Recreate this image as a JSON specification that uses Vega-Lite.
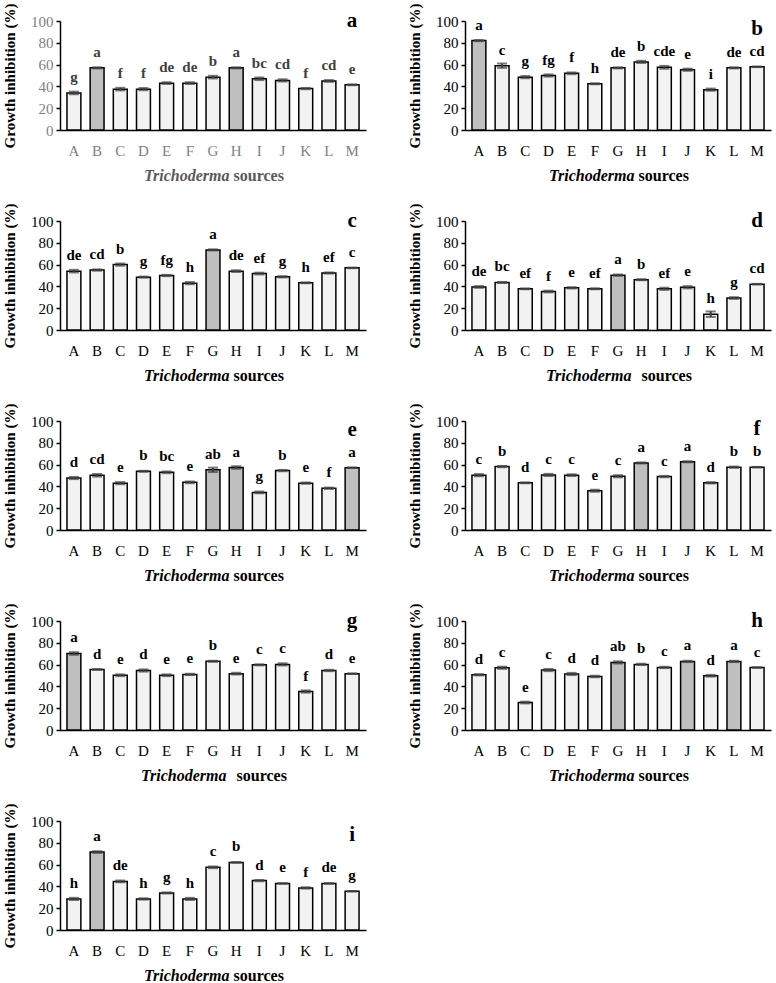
{
"$schema": "https://vega.github.io/schema/vega-lite/v6.json",
"background": "white",
"padding": {"left": 2, "top": 1, "right": 2, "bottom": 2},
"columns": 2,
"spacing": {"row": 18, "column": 41},
"datasets": {"d": [
{"p":"a","s":"A","v":34,"e":1.2,"l":"g","h":0},{"p":"a","s":"B","v":57,"e":0.5,"l":"a","h":1},{"p":"a","s":"C","v":37.5,"e":1.2,"l":"f","h":0},{"p":"a","s":"D","v":37.5,"e":1,"l":"f","h":0},{"p":"a","s":"E","v":43,"e":0.8,"l":"de","h":0},{"p":"a","s":"F","v":43,"e":0.8,"l":"de","h":0},{"p":"a","s":"G","v":48.5,"e":1.2,"l":"b","h":0},{"p":"a","s":"H","v":57,"e":0.5,"l":"a","h":1},{"p":"a","s":"I","v":47,"e":1.2,"l":"bc","h":0},{"p":"a","s":"J","v":45.5,"e":1,"l":"cd","h":0},{"p":"a","s":"K","v":38,"e":0.6,"l":"f","h":0},{"p":"a","s":"L","v":45,"e":0.8,"l":"cd","h":0},{"p":"a","s":"M","v":41.5,"e":0.4,"l":"e","h":0},
{"p":"b","s":"A","v":82,"e":0.5,"l":"a","h":1},{"p":"b","s":"B","v":59,"e":2,"l":"c","h":0},{"p":"b","s":"C","v":48.5,"e":1,"l":"g","h":0},{"p":"b","s":"D","v":50,"e":1,"l":"fg","h":0},{"p":"b","s":"E","v":52,"e":0.8,"l":"f","h":0},{"p":"b","s":"F","v":42.5,"e":0.5,"l":"h","h":0},{"p":"b","s":"G","v":57,"e":0.5,"l":"de","h":0},{"p":"b","s":"H","v":62.5,"e":1,"l":"b","h":0},{"p":"b","s":"I","v":57.5,"e":1.3,"l":"cde","h":0},{"p":"b","s":"J","v":55.3,"e":1,"l":"e","h":0},{"p":"b","s":"K","v":37,"e":1,"l":"i","h":0},{"p":"b","s":"L","v":57,"e":0.5,"l":"de","h":0},{"p":"b","s":"M","v":58,"e":0.3,"l":"cd","h":0},
{"p":"c","s":"A","v":54,"e":1.2,"l":"de","h":0},{"p":"c","s":"B","v":55,"e":0.6,"l":"cd","h":0},{"p":"c","s":"C","v":60,"e":1,"l":"b","h":0},{"p":"c","s":"D","v":48.5,"e":0.5,"l":"g","h":0},{"p":"c","s":"E","v":50,"e":0.6,"l":"fg","h":0},{"p":"c","s":"F","v":43,"e":1,"l":"h","h":0},{"p":"c","s":"G","v":73.5,"e":0.5,"l":"a","h":1},{"p":"c","s":"H","v":54,"e":0.8,"l":"de","h":0},{"p":"c","s":"I","v":51.8,"e":0.8,"l":"ef","h":0},{"p":"c","s":"J","v":48.8,"e":0.6,"l":"g","h":0},{"p":"c","s":"K","v":43.3,"e":0.4,"l":"h","h":0},{"p":"c","s":"L","v":52.3,"e":0.5,"l":"ef","h":0},{"p":"c","s":"M","v":57,"e":0.3,"l":"c","h":0},
{"p":"d","s":"A","v":39.5,"e":0.8,"l":"de","h":0},{"p":"d","s":"B","v":43.6,"e":0.5,"l":"bc","h":0},{"p":"d","s":"C","v":37.8,"e":0.4,"l":"ef","h":0},{"p":"d","s":"D","v":35.3,"e":0.8,"l":"f","h":0},{"p":"d","s":"E","v":38.7,"e":0.6,"l":"e","h":0},{"p":"d","s":"F","v":37.8,"e":0.4,"l":"ef","h":0},{"p":"d","s":"G","v":50.3,"e":0.6,"l":"a","h":1},{"p":"d","s":"H","v":46.2,"e":0.5,"l":"b","h":0},{"p":"d","s":"I","v":37.8,"e":1,"l":"ef","h":0},{"p":"d","s":"J","v":39.2,"e":1,"l":"e","h":0},{"p":"d","s":"K","v":14.5,"e":2.5,"l":"h","h":0},{"p":"d","s":"L","v":29.3,"e":0.8,"l":"g","h":0},{"p":"d","s":"M","v":42,"e":0.3,"l":"cd","h":0},
{"p":"e","s":"A","v":47.7,"e":1,"l":"d","h":0},{"p":"e","s":"B","v":50.2,"e":1.2,"l":"cd","h":0},{"p":"e","s":"C","v":43,"e":1,"l":"e","h":0},{"p":"e","s":"D","v":53.8,"e":0.5,"l":"b","h":0},{"p":"e","s":"E","v":52.9,"e":0.8,"l":"bc","h":0},{"p":"e","s":"F","v":43.7,"e":0.8,"l":"e","h":0},{"p":"e","s":"G","v":55.2,"e":2,"l":"ab","h":1},{"p":"e","s":"H","v":57.3,"e":1.2,"l":"a","h":1},{"p":"e","s":"I","v":34.5,"e":0.8,"l":"g","h":0},{"p":"e","s":"J","v":54.5,"e":0.6,"l":"b","h":0},{"p":"e","s":"K","v":43,"e":0.6,"l":"e","h":0},{"p":"e","s":"L","v":38.3,"e":0.6,"l":"f","h":0},{"p":"e","s":"M","v":57.2,"e":0.3,"l":"a","h":1},
{"p":"f","s":"A","v":50.3,"e":1,"l":"c","h":0},{"p":"f","s":"B","v":58.2,"e":0.6,"l":"b","h":0},{"p":"f","s":"C","v":43.3,"e":0.4,"l":"d","h":0},{"p":"f","s":"D","v":50.5,"e":1,"l":"c","h":0},{"p":"f","s":"E","v":50.3,"e":0.8,"l":"c","h":0},{"p":"f","s":"F","v":36,"e":1,"l":"e","h":0},{"p":"f","s":"G","v":49.3,"e":1,"l":"c","h":0},{"p":"f","s":"H","v":61.5,"e":0.5,"l":"a","h":1},{"p":"f","s":"I","v":49,"e":0.6,"l":"c","h":0},{"p":"f","s":"J","v":62.6,"e":0.5,"l":"a","h":1},{"p":"f","s":"K","v":43.3,"e":0.6,"l":"d","h":0},{"p":"f","s":"L","v":57.6,"e":0.6,"l":"b","h":0},{"p":"f","s":"M","v":57.6,"e":0.3,"l":"b","h":0},
{"p":"g","s":"A","v":70.2,"e":1.2,"l":"a","h":1},{"p":"g","s":"B","v":55.5,"e":0.4,"l":"d","h":0},{"p":"g","s":"C","v":50.2,"e":0.8,"l":"e","h":0},{"p":"g","s":"D","v":54.6,"e":1,"l":"d","h":0},{"p":"g","s":"E","v":50.2,"e":0.8,"l":"e","h":0},{"p":"g","s":"F","v":51,"e":0.6,"l":"e","h":0},{"p":"g","s":"G","v":63,"e":0.5,"l":"b","h":0},{"p":"g","s":"H","v":51.7,"e":0.8,"l":"e","h":0},{"p":"g","s":"I","v":59.8,"e":0.5,"l":"c","h":0},{"p":"g","s":"J","v":60.2,"e":1,"l":"c","h":0},{"p":"g","s":"K","v":35.3,"e":1,"l":"f","h":0},{"p":"g","s":"L","v":54.6,"e":0.6,"l":"d","h":0},{"p":"g","s":"M","v":51.7,"e":0.3,"l":"e","h":0},
{"p":"h","s":"A","v":50.7,"e":0.6,"l":"d","h":0},{"p":"h","s":"B","v":57.1,"e":1,"l":"c","h":0},{"p":"h","s":"C","v":25.2,"e":0.8,"l":"e","h":0},{"p":"h","s":"D","v":55,"e":1,"l":"c","h":0},{"p":"h","s":"E","v":51.4,"e":1,"l":"d","h":0},{"p":"h","s":"F","v":49.1,"e":0.6,"l":"d","h":0},{"p":"h","s":"G","v":62,"e":1,"l":"ab","h":1},{"p":"h","s":"H","v":60.2,"e":0.6,"l":"b","h":0},{"p":"h","s":"I","v":57.4,"e":0.6,"l":"c","h":0},{"p":"h","s":"J","v":62.9,"e":0.6,"l":"a","h":1},{"p":"h","s":"K","v":49.8,"e":0.8,"l":"d","h":0},{"p":"h","s":"L","v":62.9,"e":0.6,"l":"a","h":1},{"p":"h","s":"M","v":57.3,"e":0.3,"l":"c","h":0},
{"p":"i","s":"A","v":28.5,"e":1,"l":"h","h":0},{"p":"i","s":"B","v":71.5,"e":0.8,"l":"a","h":1},{"p":"i","s":"C","v":44.6,"e":0.8,"l":"de","h":0},{"p":"i","s":"D","v":28.5,"e":0.6,"l":"h","h":0},{"p":"i","s":"E","v":34,"e":0.5,"l":"g","h":0},{"p":"i","s":"F","v":28.5,"e":1,"l":"h","h":0},{"p":"i","s":"G","v":57.5,"e":0.8,"l":"c","h":0},{"p":"i","s":"H","v":62,"e":0.4,"l":"b","h":0},{"p":"i","s":"I","v":45.3,"e":0.6,"l":"d","h":0},{"p":"i","s":"J","v":42.7,"e":0.3,"l":"e","h":0},{"p":"i","s":"K","v":38.6,"e":0.6,"l":"f","h":0},{"p":"i","s":"L","v":42.7,"e":0.3,"l":"de","h":0},{"p":"i","s":"M","v":35.5,"e":0.3,"l":"g","h":0}
]},
"concat": [
{"width":306,"height":109,"data":{"name":"d"},"transform":[{"filter":"datum.p == 'a'"}],
 "encoding":{"y":{"field":"v","type":"quantitative","scale":{"domain":[0,100]},"axis":{"title":"Growth inhibition  (%)","values":[0,20,40,60,80,100],"labelColor":"#7f7f7f"}}},
 "layer":[
  {"mark":{"type":"bar","stroke":"black","strokeWidth":1.5},"encoding":{"x":{"field":"s","type":"nominal","scale":{"paddingInner":0.4,"paddingOuter":0.3},"axis":{"title":"Trichoderma","titleFontStyle":"italic","titleAlign":"right","titleAnchor":null,"titleX":169,"titleY":50,"titleBaseline":"alphabetic","labelColor":"#7f7f7f","titleColor":"#595959"}},"color":{"field":"h","type":"nominal","scale":{"domain":[0,1],"range":["#f2f2f2","#bfbfbf"]},"legend":null}}},
  {"mark":{"type":"errorbar","ticks":{"size":10},"color":"#404040","thickness":2},"encoding":{"x":{"field":"s","type":"nominal","axis":null},"yError":{"field":"e"}}},
  {"mark":{"type":"text","dy":-11,"baseline":"alphabetic","fontWeight":"bold","fontSize":15,"color":"#404040"},"encoding":{"x":{"field":"s","type":"nominal","axis":{"title":"sources","orient":"bottom","labels":false,"ticks":false,"domain":false,"titleAlign":"left","titleAnchor":null,"titleX":173,"titleY":50,"titleBaseline":"alphabetic","titleColor":"#595959"}},"text":{"field":"l"}}},
  {"transform":[{"filter":"datum.s == 'M'"}],"mark":{"type":"text","fontSize":21,"fontWeight":"bold","baseline":"middle"},"encoding":{"x":{"field":"s","type":"nominal","axis":null},"y":{"datum":100,"type":"quantitative","axis":{"title":"Growth inhibition  (%)","values":[0,20,40,60,80,100],"labelColor":"#7f7f7f"}},"text":{"value":"a"}}}
 ],
 "resolve":{"axis":{"x":"independent"}}},
{"width":306,"height":109,"data":{"name":"d"},"transform":[{"filter":"datum.p == 'b'"}],
 "encoding":{"y":{"field":"v","type":"quantitative","scale":{"domain":[0,100]},"axis":{"title":"Growth inhibition  (%)","values":[0,20,40,60,80,100]}}},
 "layer":[
  {"mark":{"type":"bar","stroke":"black","strokeWidth":1.5},"encoding":{"x":{"field":"s","type":"nominal","scale":{"paddingInner":0.4,"paddingOuter":0.3},"axis":{"title":"Trichoderma","titleFontStyle":"italic","titleAlign":"right","titleAnchor":null,"titleX":169,"titleY":50,"titleBaseline":"alphabetic"}},"color":{"field":"h","type":"nominal","scale":{"domain":[0,1],"range":["#f2f2f2","#bfbfbf"]},"legend":null}}},
  {"mark":{"type":"errorbar","ticks":{"size":10},"color":"#404040","thickness":2},"encoding":{"x":{"field":"s","type":"nominal","axis":null},"yError":{"field":"e"}}},
  {"mark":{"type":"text","dy":-11,"baseline":"alphabetic","fontWeight":"bold","fontSize":15},"encoding":{"x":{"field":"s","type":"nominal","axis":{"title":"sources","orient":"bottom","labels":false,"ticks":false,"domain":false,"titleAlign":"left","titleAnchor":null,"titleX":173,"titleY":50,"titleBaseline":"alphabetic"}},"text":{"field":"l"}}},
  {"transform":[{"filter":"datum.s == 'M'"}],"mark":{"type":"text","fontSize":21,"fontWeight":"bold","baseline":"middle"},"encoding":{"x":{"field":"s","type":"nominal","axis":null},"y":{"datum":93,"type":"quantitative","axis":{"title":"Growth inhibition  (%)","values":[0,20,40,60,80,100]}},"text":{"value":"b"}}}
 ],
 "resolve":{"axis":{"x":"independent"}}},
{"width":306,"height":109,"data":{"name":"d"},"transform":[{"filter":"datum.p == 'c'"}],
 "encoding":{"y":{"field":"v","type":"quantitative","scale":{"domain":[0,100]},"axis":{"title":"Growth inhibition  (%)","values":[0,20,40,60,80,100]}}},
 "layer":[
  {"mark":{"type":"bar","stroke":"black","strokeWidth":1.5},"encoding":{"x":{"field":"s","type":"nominal","scale":{"paddingInner":0.4,"paddingOuter":0.3},"axis":{"title":"Trichoderma","titleFontStyle":"italic","titleAlign":"right","titleAnchor":null,"titleX":169,"titleY":50,"titleBaseline":"alphabetic"}},"color":{"field":"h","type":"nominal","scale":{"domain":[0,1],"range":["#f2f2f2","#bfbfbf"]},"legend":null}}},
  {"mark":{"type":"errorbar","ticks":{"size":10},"color":"#404040","thickness":2},"encoding":{"x":{"field":"s","type":"nominal","axis":null},"yError":{"field":"e"}}},
  {"mark":{"type":"text","dy":-11,"baseline":"alphabetic","fontWeight":"bold","fontSize":15},"encoding":{"x":{"field":"s","type":"nominal","axis":{"title":"sources","orient":"bottom","labels":false,"ticks":false,"domain":false,"titleAlign":"left","titleAnchor":null,"titleX":173,"titleY":50,"titleBaseline":"alphabetic"}},"text":{"field":"l"}}},
  {"transform":[{"filter":"datum.s == 'M'"}],"mark":{"type":"text","fontSize":21,"fontWeight":"bold","baseline":"middle"},"encoding":{"x":{"field":"s","type":"nominal","axis":null},"y":{"datum":100,"type":"quantitative","axis":{"title":"Growth inhibition  (%)","values":[0,20,40,60,80,100]}},"text":{"value":"c"}}}
 ],
 "resolve":{"axis":{"x":"independent"}}},
{"width":306,"height":109,"data":{"name":"d"},"transform":[{"filter":"datum.p == 'd'"}],
 "encoding":{"y":{"field":"v","type":"quantitative","scale":{"domain":[0,100]},"axis":{"title":"Growth inhibition  (%)","values":[0,20,40,60,80,100]}}},
 "layer":[
  {"mark":{"type":"bar","stroke":"black","strokeWidth":1.5},"encoding":{"x":{"field":"s","type":"nominal","scale":{"paddingInner":0.4,"paddingOuter":0.3},"axis":{"title":"Trichoderma","titleFontStyle":"italic","titleAlign":"right","titleAnchor":null,"titleX":166,"titleY":50,"titleBaseline":"alphabetic"}},"color":{"field":"h","type":"nominal","scale":{"domain":[0,1],"range":["#f2f2f2","#bfbfbf"]},"legend":null}}},
  {"mark":{"type":"errorbar","ticks":{"size":10},"color":"#404040","thickness":2},"encoding":{"x":{"field":"s","type":"nominal","axis":null},"yError":{"field":"e"}}},
  {"mark":{"type":"text","dy":-11,"baseline":"alphabetic","fontWeight":"bold","fontSize":15},"encoding":{"x":{"field":"s","type":"nominal","axis":{"title":"sources","orient":"bottom","labels":false,"ticks":false,"domain":false,"titleAlign":"left","titleAnchor":null,"titleX":176,"titleY":50,"titleBaseline":"alphabetic"}},"text":{"field":"l"}}},
  {"transform":[{"filter":"datum.s == 'M'"}],"mark":{"type":"text","fontSize":21,"fontWeight":"bold","baseline":"middle"},"encoding":{"x":{"field":"s","type":"nominal","axis":null},"y":{"datum":100,"type":"quantitative","axis":{"title":"Growth inhibition  (%)","values":[0,20,40,60,80,100]}},"text":{"value":"d"}}}
 ],
 "resolve":{"axis":{"x":"independent"}}},
{"width":306,"height":109,"data":{"name":"d"},"transform":[{"filter":"datum.p == 'e'"}],
 "encoding":{"y":{"field":"v","type":"quantitative","scale":{"domain":[0,100]},"axis":{"title":"Growth inhibition  (%)","values":[0,20,40,60,80,100]}}},
 "layer":[
  {"mark":{"type":"bar","stroke":"black","strokeWidth":1.5},"encoding":{"x":{"field":"s","type":"nominal","scale":{"paddingInner":0.4,"paddingOuter":0.3},"axis":{"title":"Trichoderma","titleFontStyle":"italic","titleAlign":"right","titleAnchor":null,"titleX":169,"titleY":50,"titleBaseline":"alphabetic"}},"color":{"field":"h","type":"nominal","scale":{"domain":[0,1],"range":["#f2f2f2","#bfbfbf"]},"legend":null}}},
  {"mark":{"type":"errorbar","ticks":{"size":10},"color":"#404040","thickness":2},"encoding":{"x":{"field":"s","type":"nominal","axis":null},"yError":{"field":"e"}}},
  {"mark":{"type":"text","dy":-11,"baseline":"alphabetic","fontWeight":"bold","fontSize":15},"encoding":{"x":{"field":"s","type":"nominal","axis":{"title":"sources","orient":"bottom","labels":false,"ticks":false,"domain":false,"titleAlign":"left","titleAnchor":null,"titleX":173,"titleY":50,"titleBaseline":"alphabetic"}},"text":{"field":"l"}}},
  {"transform":[{"filter":"datum.s == 'M'"}],"mark":{"type":"text","fontSize":21,"fontWeight":"bold","baseline":"middle"},"encoding":{"x":{"field":"s","type":"nominal","axis":null},"y":{"datum":92,"type":"quantitative","axis":{"title":"Growth inhibition  (%)","values":[0,20,40,60,80,100]}},"text":{"value":"e"}}}
 ],
 "resolve":{"axis":{"x":"independent"}}},
{"width":306,"height":109,"data":{"name":"d"},"transform":[{"filter":"datum.p == 'f'"}],
 "encoding":{"y":{"field":"v","type":"quantitative","scale":{"domain":[0,100]},"axis":{"title":"Growth inhibition  (%)","values":[0,20,40,60,80,100]}}},
 "layer":[
  {"mark":{"type":"bar","stroke":"black","strokeWidth":1.5},"encoding":{"x":{"field":"s","type":"nominal","scale":{"paddingInner":0.4,"paddingOuter":0.3},"axis":{"title":"Trichoderma","titleFontStyle":"italic","titleAlign":"right","titleAnchor":null,"titleX":169,"titleY":50,"titleBaseline":"alphabetic"}},"color":{"field":"h","type":"nominal","scale":{"domain":[0,1],"range":["#f2f2f2","#bfbfbf"]},"legend":null}}},
  {"mark":{"type":"errorbar","ticks":{"size":10},"color":"#404040","thickness":2},"encoding":{"x":{"field":"s","type":"nominal","axis":null},"yError":{"field":"e"}}},
  {"mark":{"type":"text","dy":-11,"baseline":"alphabetic","fontWeight":"bold","fontSize":15},"encoding":{"x":{"field":"s","type":"nominal","axis":{"title":"sources","orient":"bottom","labels":false,"ticks":false,"domain":false,"titleAlign":"left","titleAnchor":null,"titleX":173,"titleY":50,"titleBaseline":"alphabetic"}},"text":{"field":"l"}}},
  {"transform":[{"filter":"datum.s == 'M'"}],"mark":{"type":"text","fontSize":21,"fontWeight":"bold","baseline":"middle"},"encoding":{"x":{"field":"s","type":"nominal","axis":null},"y":{"datum":93,"type":"quantitative","axis":{"title":"Growth inhibition  (%)","values":[0,20,40,60,80,100]}},"text":{"value":"f"}}}
 ],
 "resolve":{"axis":{"x":"independent"}}},
{"width":306,"height":109,"data":{"name":"d"},"transform":[{"filter":"datum.p == 'g'"}],
 "encoding":{"y":{"field":"v","type":"quantitative","scale":{"domain":[0,100]},"axis":{"title":"Growth inhibition (%)","values":[0,20,40,60,80,100]}}},
 "layer":[
  {"mark":{"type":"bar","stroke":"black","strokeWidth":1.5},"encoding":{"x":{"field":"s","type":"nominal","scale":{"paddingInner":0.4,"paddingOuter":0.3},"axis":{"title":"Trichoderma","titleFontStyle":"italic","titleAlign":"right","titleAnchor":null,"titleX":166,"titleY":50,"titleBaseline":"alphabetic"}},"color":{"field":"h","type":"nominal","scale":{"domain":[0,1],"range":["#f2f2f2","#bfbfbf"]},"legend":null}}},
  {"mark":{"type":"errorbar","ticks":{"size":10},"color":"#404040","thickness":2},"encoding":{"x":{"field":"s","type":"nominal","axis":null},"yError":{"field":"e"}}},
  {"mark":{"type":"text","dy":-11,"baseline":"alphabetic","fontWeight":"bold","fontSize":15},"encoding":{"x":{"field":"s","type":"nominal","axis":{"title":"sources","orient":"bottom","labels":false,"ticks":false,"domain":false,"titleAlign":"left","titleAnchor":null,"titleX":176,"titleY":50,"titleBaseline":"alphabetic"}},"text":{"field":"l"}}},
  {"transform":[{"filter":"datum.s == 'M'"}],"mark":{"type":"text","fontSize":21,"fontWeight":"bold","baseline":"middle"},"encoding":{"x":{"field":"s","type":"nominal","axis":null},"y":{"datum":100,"type":"quantitative","axis":{"title":"Growth inhibition (%)","values":[0,20,40,60,80,100]}},"text":{"value":"g"}}}
 ],
 "resolve":{"axis":{"x":"independent"}}},
{"width":306,"height":109,"data":{"name":"d"},"transform":[{"filter":"datum.p == 'h'"}],
 "encoding":{"y":{"field":"v","type":"quantitative","scale":{"domain":[0,100]},"axis":{"title":"Growth inhibition  (%)","values":[0,20,40,60,80,100]}}},
 "layer":[
  {"mark":{"type":"bar","stroke":"black","strokeWidth":1.5},"encoding":{"x":{"field":"s","type":"nominal","scale":{"paddingInner":0.4,"paddingOuter":0.3},"axis":{"title":"Trichoderma","titleFontStyle":"italic","titleAlign":"right","titleAnchor":null,"titleX":169,"titleY":50,"titleBaseline":"alphabetic"}},"color":{"field":"h","type":"nominal","scale":{"domain":[0,1],"range":["#f2f2f2","#bfbfbf"]},"legend":null}}},
  {"mark":{"type":"errorbar","ticks":{"size":10},"color":"#404040","thickness":2},"encoding":{"x":{"field":"s","type":"nominal","axis":null},"yError":{"field":"e"}}},
  {"mark":{"type":"text","dy":-11,"baseline":"alphabetic","fontWeight":"bold","fontSize":15},"encoding":{"x":{"field":"s","type":"nominal","axis":{"title":"sources","orient":"bottom","labels":false,"ticks":false,"domain":false,"titleAlign":"left","titleAnchor":null,"titleX":173,"titleY":50,"titleBaseline":"alphabetic"}},"text":{"field":"l"}}},
  {"transform":[{"filter":"datum.s == 'M'"}],"mark":{"type":"text","fontSize":21,"fontWeight":"bold","baseline":"middle"},"encoding":{"x":{"field":"s","type":"nominal","axis":null},"y":{"datum":100,"type":"quantitative","axis":{"title":"Growth inhibition  (%)","values":[0,20,40,60,80,100]}},"text":{"value":"h"}}}
 ],
 "resolve":{"axis":{"x":"independent"}}},
{"width":306,"height":109,"data":{"name":"d"},"transform":[{"filter":"datum.p == 'i'"}],
 "encoding":{"y":{"field":"v","type":"quantitative","scale":{"domain":[0,100]},"axis":{"title":"Growth inhibition  (%)","values":[0,20,40,60,80,100]}}},
 "layer":[
  {"mark":{"type":"bar","stroke":"black","strokeWidth":1.5},"encoding":{"x":{"field":"s","type":"nominal","scale":{"paddingInner":0.4,"paddingOuter":0.3},"axis":{"title":"Trichoderma","titleFontStyle":"italic","titleAlign":"right","titleAnchor":null,"titleX":169,"titleY":50,"titleBaseline":"alphabetic"}},"color":{"field":"h","type":"nominal","scale":{"domain":[0,1],"range":["#f2f2f2","#bfbfbf"]},"legend":null}}},
  {"mark":{"type":"errorbar","ticks":{"size":10},"color":"#404040","thickness":2},"encoding":{"x":{"field":"s","type":"nominal","axis":null},"yError":{"field":"e"}}},
  {"mark":{"type":"text","dy":-11,"baseline":"alphabetic","fontWeight":"bold","fontSize":15},"encoding":{"x":{"field":"s","type":"nominal","axis":{"title":"sources","orient":"bottom","labels":false,"ticks":false,"domain":false,"titleAlign":"left","titleAnchor":null,"titleX":173,"titleY":50,"titleBaseline":"alphabetic"}},"text":{"field":"l"}}},
  {"transform":[{"filter":"datum.s == 'M'"}],"mark":{"type":"text","fontSize":21,"fontWeight":"bold","baseline":"middle"},"encoding":{"x":{"field":"s","type":"nominal","axis":null},"y":{"datum":87,"type":"quantitative","axis":{"title":"Growth inhibition  (%)","values":[0,20,40,60,80,100]}},"text":{"value":"i"}}}
 ],
 "resolve":{"axis":{"x":"independent"}}}
],
"config": {
 "view": {"stroke": null},
 "font": "Liberation Serif",
 "text": {"font": "Liberation Serif"},
 "axis": {"labelFont": "Liberation Serif", "titleFont": "Liberation Serif", "grid": false, "domainColor": "black", "domainWidth": 1.5, "tickColor": "black", "tickWidth": 1.5, "labelColor": "black", "titleColor": "black", "labelFontSize": 15, "titleFontWeight": "bold"},
 "axisY": {"tickSize": 4, "labelPadding": 3, "titleFontSize": 15, "titlePadding": 13},
 "axisX": {"ticks": false, "tickSize": 0, "labelAngle": 0, "labelPadding": 13, "titleFontSize": 16}
}
}
